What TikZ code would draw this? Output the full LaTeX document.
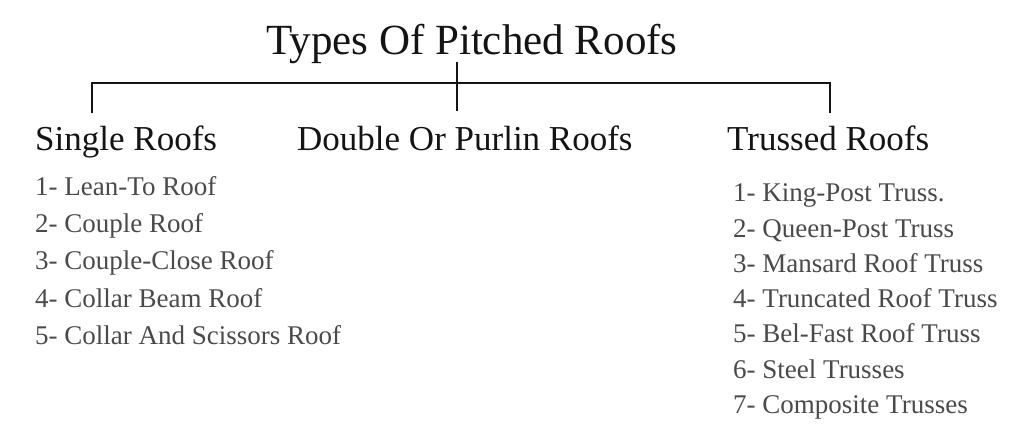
\documentclass[tikz,border=0pt]{standalone}
\usepackage{fontspec}
\setmainfont{Liberation Serif}
\definecolor{inkblack}{HTML}{141414}
\definecolor{itemgray}{HTML}{4A4A4A}
\tikzset{
    heading/.style={anchor=base west, inner sep=0pt, text=inkblack, font=\fontsize{35}{40}\selectfont},
    item/.style={anchor=base west, inner sep=0pt, text=itemgray, font=\fontsize{27}{32}\selectfont},
    branch/.style={draw=inkblack, line width=2.6pt}
}
\begin{document}
\begin{tikzpicture}[x=1pt, y=-1pt]

    \useasboundingbox[fill=white] (0,0) rectangle (1024,435);

    \node[heading, font=\fontsize{43}{48}\selectfont] (title) at (266,55) {Types Of Pitched Roofs};

    \node[heading] (single) at (35,151) {Single Roofs};
    \node[heading] (double) at (297,151) {Double Or Purlin Roofs};
    \node[heading] (trussed) at (727,151) {Trussed Roofs};

    \coordinate (stemtop) at (457,62);
    \coordinate (stembot) at (457,111);
    \coordinate (barleft) at (92,113);
    \coordinate (barright) at (830,113);
    \coordinate (bar) at (457,83);

    \draw[branch] (stemtop) -- (stembot);
    \draw[branch] (barleft) -- (barleft |- bar) -- (barright |- bar) -- (barright);

    \foreach \txt [count=\i] in {Lean-To Roof, Couple Roof, Couple-Close Roof, Collar Beam Roof, Collar And Scissors Roof}
        \node[item] (single\i) at (35,{196+37*(\i-1)}) {\i- \txt};

    \foreach \txt [count=\i] in {King-Post Truss., Queen-Post Truss, Mansard Roof Truss, Truncated Roof Truss, Bel-Fast Roof Truss, Steel Trusses, Composite Trusses}
        \node[item] (trussed\i) at (733,{202+35.2*(\i-1)}) {\i- \txt};

\end{tikzpicture}
\end{document}
